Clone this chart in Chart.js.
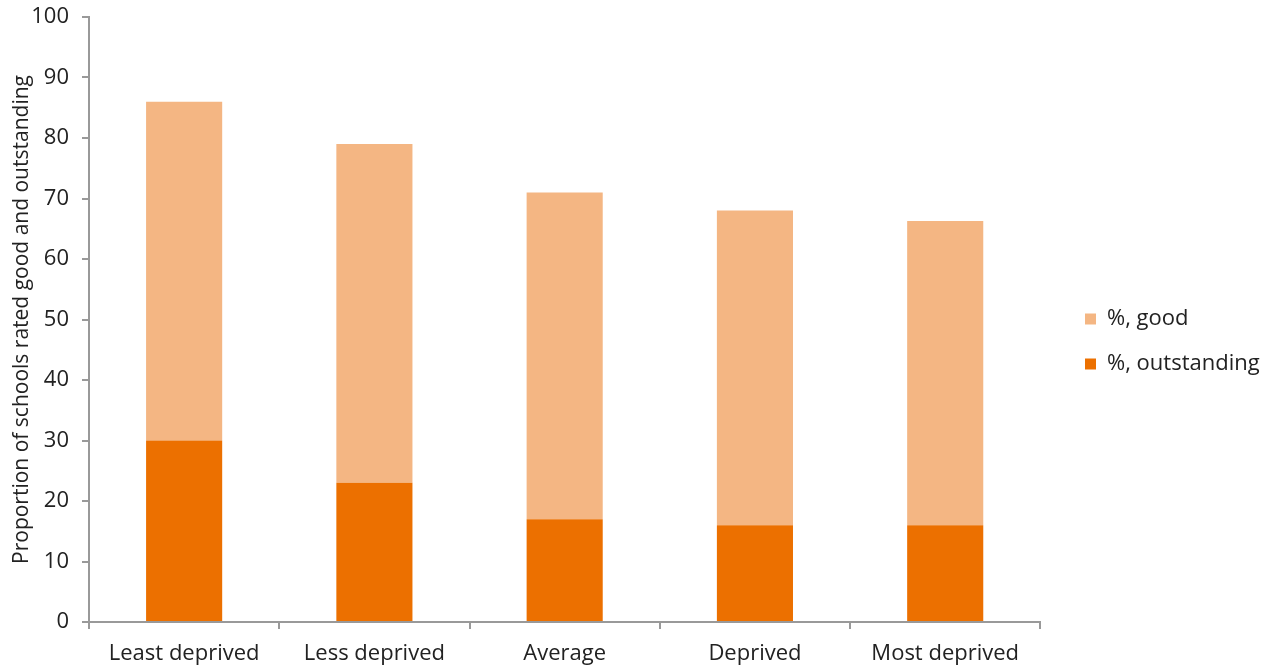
<!DOCTYPE html>
<html>
<head>
<meta charset="utf-8">
<script src="https://cdn.jsdelivr.net/npm/chart.js@4"></script>
<style>
  html, body { margin: 0; padding: 0; background: #fff; }
  #wrap { width: 1272px; height: 666px; }
</style>
</head>
<body>
<div id="wrap"><canvas id="barChart" width="1272" height="666"></canvas></div>
<script>
// stacked bar chart
var categories = ["Least deprived", "Less deprived", "Average", "Deprived", "Most deprived"];
var outstanding = [30, 23, 17, 16, 16];
var good = [56, 56, 54, 52, 50.3];

// push the legend a little further away from the plot
var legendGap = {
  id: 'legendGap',
  afterLayout: function(chart) {
    chart.legend.left = 1062;
    chart.legend.right = 1272;
  }
};

var ctx = document.getElementById("barChart").getContext('2d');
var barChart = new Chart(ctx, {
  type: 'bar',
  data: {
    labels: categories,
    datasets: [{
      label: '%, outstanding',
      backgroundColor: "#ec7000",
      data: outstanding,
      categoryPercentage: 0.4,
      barPercentage: 1
    }, {
      label: '%, good',
      backgroundColor: "#f4b683",
      data: good,
      categoryPercentage: 0.4,
      barPercentage: 1
    }]
  },
  plugins: [legendGap],
  options: {
    responsive: false,
    animation: false,
    layout: { padding: { top: 17, right: 24, bottom: 0, left: 1 } },
    plugins: {
      legend: {
        position: 'right',
        reverse: true,
        labels: {
          boxWidth: 11,
          boxHeight: 11,
          padding: 23,
          color: '#222',
          font: { family: 'Open Sans', size: 22 }
        }
      },
      tooltip: { enabled: false }
    },
    scales: {
      x: {
        stacked: true,
        afterFit: function(scale) { scale.height = 44; },
        grid: { drawOnChartArea: false, tickLength: 7, color: '#999', lineWidth: 2 },
        border: { color: '#999', width: 2 },
        ticks: { color: '#222', padding: 12, font: { family: 'Open Sans', size: 22 } }
      },
      y: {
        stacked: true,
        min: 0,
        max: 100,
        afterFit: function(scale) {
          scale.width = 88;
          scale.paddingTop = 0;
          scale.paddingBottom = 0;
        },
        grid: { drawOnChartArea: false, tickLength: 7, color: '#999', lineWidth: 2 },
        border: { color: '#999', width: 2 },
        ticks: { stepSize: 10, color: '#222', padding: 13, font: { family: 'Open Sans', size: 22 } },
        title: {
          display: true,
          text: 'Proportion of schools rated good and outstanding',
          color: '#222',
          padding: { top: 8, bottom: 0 },
          font: { family: 'Open Sans', size: 21 }
        }
      }
    }
  }
});
</script>
</body>
</html>
